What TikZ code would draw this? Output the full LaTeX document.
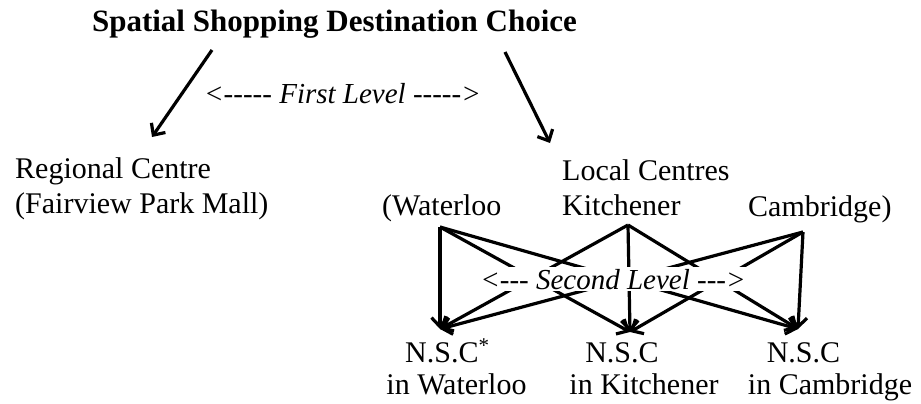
\documentclass[tikz,border=0pt]{standalone}
\usepackage{fontspec}
\setmainfont{Liberation Serif}
\usetikzlibrary{arrows.meta}
\newcommand{\hy}{-{}}
\begin{document}
\begin{tikzpicture}[x=1pt,y=-1pt,
  txt/.style={inner sep=0pt, font=\fontsize{30}{36}\selectfont},
  ttl/.style={inner sep=0pt, font=\fontsize{31}{36}\selectfont\bfseries},
  lvl/.style={inner sep=0pt, font=\fontsize{29}{34}\selectfont\itshape},
  arr/.style={line width=3.2pt, -{Straight Barb[length=9pt,width=17pt]}},
  mask/.style={fill=white, inner xsep=2pt, inner ysep=1.5pt, font=\fontsize{29}{34}\selectfont\itshape},
]
\useasboundingbox (0,0) rectangle (921,404);
% texts
\node[ttl, anchor=base] (title) at (334.5,32) {Spatial Shopping Destination Choice};
\node[lvl, anchor=base] (first) at (342.5,103) {<\hy\hy\hy\hy\hy{} First Level \hy\hy\hy\hy\hy>};
\node[txt, anchor=base west] (reg) at (15,178) {Regional Centre};
\node[txt, anchor=base west] (fair) at (15,213) {(Fairview Park Mall)};
\node[txt, anchor=base west] (loc) at (562,180) {Local Centres};
\node[txt, anchor=base west] (wat) at (382,215) {(Waterloo};
\node[txt, anchor=base west] (kit) at (562,215) {Kitchener};
\node[txt, anchor=base west] (cam) at (748,216) {Cambridge)};
\node[txt, anchor=base west] (nw) at (405,362) {N.S.C\textsuperscript{*}};
\node[txt, anchor=base] (nk) at (622,362) {N.S.C};
\node[txt, anchor=base] (nc) at (803.5,362) {N.S.C};
\node[txt, anchor=base] (iw) at (456.5,394) {in Waterloo};
\node[txt, anchor=base] (ik) at (644,394) {in Kitchener};
\node[txt, anchor=base] (ic) at (830,394) {in Cambridge};
% connector ends
\coordinate (ta) at (212,50);
\coordinate (tb) at (505,52);
\coordinate (ra) at (152,137);
\coordinate (rb) at (550,143);
\coordinate (wj) at (440,227);
\coordinate (kj) at (628,225);
\coordinate (cj) at (803,232);
\coordinate (wt) at (440,329);
\coordinate (kt) at (630,332);
\coordinate (ct) at (798,329);
% first level
\draw[arr] (ta) -- (ra);
\draw[arr] (tb) -- (rb);
% second level
\foreach \s in {wj,kj,cj}{
  \foreach \t in {wt,kt,ct}{
    \draw[arr] (\s) -- (\t);
  }
}
\node[mask, anchor=base] (second) at (613,289) {<\hy\hy\hy{} Second Level \hy\hy\hy>};
\end{tikzpicture}
\end{document}
